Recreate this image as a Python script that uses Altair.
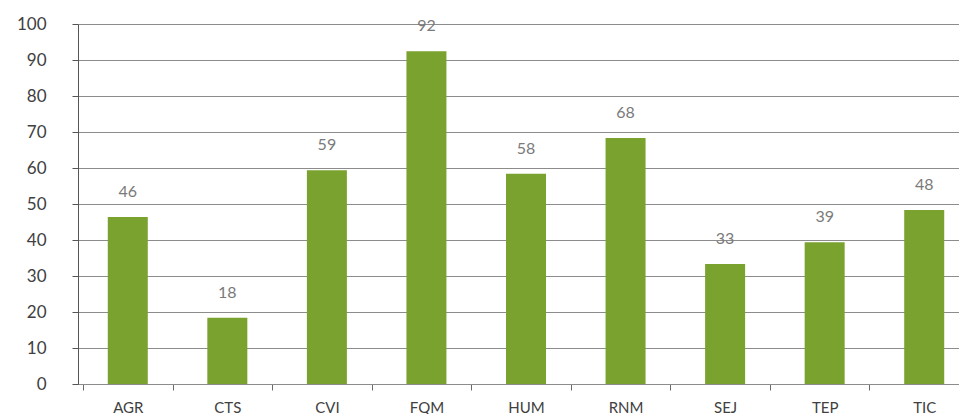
import altair as alt
import pandas as pd

categories = ["AGR", "CTS", "CVI", "FQM", "HUM", "RNM", "SEJ", "TEP", "TIC"]
values = [46.4, 18.4, 59.4, 92.4, 58.4, 68.3, 33.3, 39.4, 48.3]

df = pd.DataFrame({"cat": categories, "val": values})

FONT = "Lato"

base = alt.Chart(df).encode(
    x=alt.X("cat:N", sort=categories, title=None,
            scale=alt.Scale(range=[0, 896]),
            axis=alt.Axis(labelAngle=0, tickBand="extent", tickSize=6,
                          domainColor="#8c8c8c", tickColor="#6a6a6a",
                          labelFont=FONT, labelFontSize=15, labelColor="#404040",
                          labelPadding=10, grid=False)),
    y=alt.Y("val:Q", title=None,
            scale=alt.Scale(domain=[0, 100], nice=False),
            axis=alt.Axis(values=list(range(0, 101, 10)), tickSize=6,
                          domainColor="#555555", tickColor="#555555",
                          gridColor="#8c8c8c", gridWidth=1.2,
                          labelFont=FONT, labelFontSize=17, labelColor="#404040",
                          labelPadding=26)),
)

bars = base.mark_bar(size=40, color="#7AA22F")
labels = base.mark_text(dy=-20, baseline="alphabetic", font=FONT, fontSize=16,
                        color="#7a7a7a").encode(
    text=alt.Text("val:Q", format=".0f"))

chart = (bars + labels).properties(
    width=881, height=360,
    autosize=alt.AutoSizeParams(type="none"),
    padding={"left": 70, "top": 16, "right": 0, "bottom": 30},
).configure_view(stroke=None)

chart.save("out.html", embed_options={"renderer": "svg", "actions": False})
